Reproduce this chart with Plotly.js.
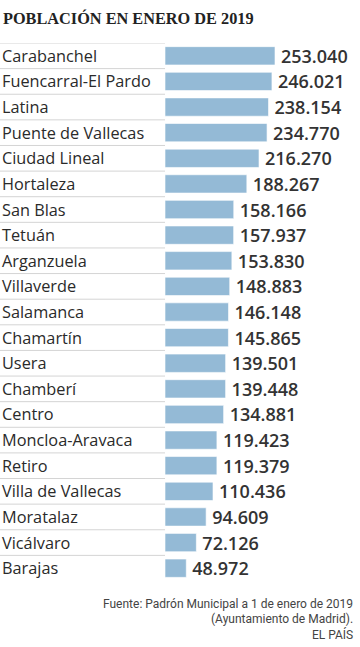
<!DOCTYPE html>
<html><head><meta charset="utf-8">
<script src="https://cdn.plot.ly/plotly-3.0.1.min.js"></script>
<style>html,body{margin:0;padding:0;background:#fff}#c{width:360px;height:647px}</style>
</head><body><div id="c"></div>
<script>
var categories = ["Carabanchel","Fuencarral-El Pardo","Latina","Puente de Vallecas","Ciudad Lineal","Hortaleza","San Blas","Tetuán","Arganzuela","Villaverde","Salamanca","Chamartín","Usera","Chamberí","Centro","Moncloa-Aravaca","Retiro","Villa de Vallecas","Moratalaz","Vicálvaro","Barajas"];
var values = [253040,246021,238154,234770,216270,188267,158166,157937,153830,148883,146148,145865,139501,139448,134881,119423,119379,110436,94609,72126,48972];
var title = "POBLACIÓN EN ENERO DE 2019";
var sourceLines = ["Fuente: Padrón Municipal a 1 de enero de 2019","(Ayuntamiento de Madrid).","EL PAÍS"];

var W = 360, H = 647, L = 165, T = 43, B = 66;
var plotW = W - L;
var n = categories.length;

var annotations = categories.map(function(c){
  return {xref:'paper', yref:'y', x: -165/plotW, y: c, text: c, showarrow:false, xanchor:'left', yanchor:'middle',
    font:{family:'"Open Sans", sans-serif', size:16.3, color:'#2a2a2a'}};
});
sourceLines.forEach(function(s,i){
  annotations.push({xref:'paper', yref:'paper', x: (355-L)/plotW, y: -(604 + i*15 - (H-B))/(H-T-B), text:s, showarrow:false,
    xanchor:'right', yanchor:'middle', font:{family:'Roboto, sans-serif', size:12, color:'#444'}});
});
var shapes = [];
for (var i=0;i<n;i++){
  shapes.push({type:'line', xref:'paper', yref:'y', x0:-L/plotW, x1:0, y0:i-0.5, y1:i-0.5, line:{color:'#d4d4d4', width:1}});
}

Plotly.newPlot('c',[{
  type:'bar', orientation:'h', y:categories, x:values,
  marker:{color:'#94bad6', line:{color:'rgba(255,255,255,0.6)', width:1}},
  texttemplate:'\u2009%{x:,}', textposition:'outside', cliponaxis:false, constraintext:'none',
  textfont:{family:'"Open Sans", sans-serif', size:18, color:'#333', weight:600},
  hoverinfo:'none'
}],{
  width:W, height:H, margin:{l:L, r:0, t:T, b:B}, separators:',.',
  paper_bgcolor:'#fff', plot_bgcolor:'#fff', showlegend:false, bargap:0.285,
  title:{text:'<b>'+title+'</b>', x:3/W, xanchor:'left', xref:'container', yref:'container', y:1-18/H, yanchor:'middle',
    font:{family:'"Liberation Serif", serif', size:16.3, color:'#222'}},
  xaxis:{range:[0, 253040*plotW/110], visible:false, fixedrange:true},
  yaxis:{type:'category', autorange:false, range:[n-0.5, -0.5], visible:false, fixedrange:true},
  annotations:annotations, shapes:shapes
},{displayModeBar:false, staticPlot:true});
</script></body></html>
